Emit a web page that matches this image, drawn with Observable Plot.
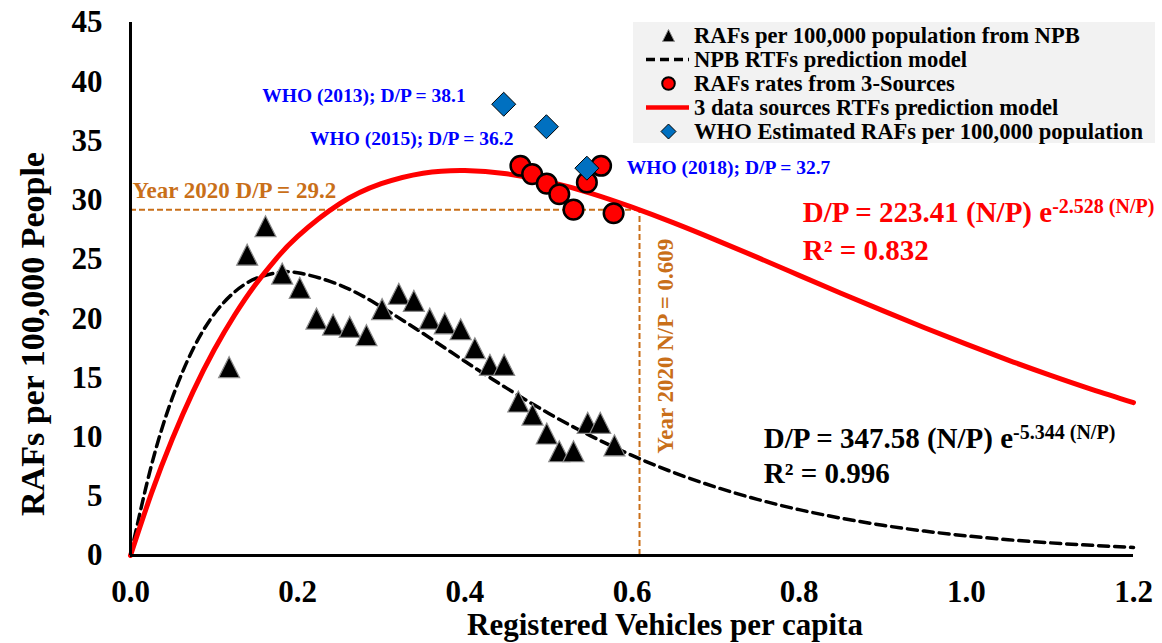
<!DOCTYPE html>
<html><head><meta charset="utf-8">
<script src="https://cdn.jsdelivr.net/npm/d3@7"></script>
<script src="https://cdn.jsdelivr.net/npm/@observablehq/plot@0.6"></script>
<style>
body{margin:0;background:#fff;}
#wrap{position:relative;width:1162px;height:643px;overflow:hidden;}
#wrap svg{position:absolute;left:0;top:0;}
</style></head><body><div id="wrap"></div>
<script>
// ---------- data ----------
const npbX = [0.118,0.1396,0.1615,0.1815,0.2025,0.2225,0.2424,0.2623,0.2823,0.301,0.321,0.339,0.358,0.376,0.395,0.412,0.430,0.447,0.464,0.481,0.498,0.513,0.530,0.547,0.562,0.579];
const npbY = [15.9,25.4,27.8,23.8,22.6,20.0,19.5,19.3,18.6,20.8,22.1,21.5,20.0,19.6,19.1,17.5,16.1,16.1,13.0,11.9,10.3,8.8,8.8,11.2,11.2,9.3];

const threeX = [0.4665,0.4805,0.498,0.513,0.530,0.546,0.563,0.578];
const threeY = [32.9,32.2,31.4,30.5,29.2,31.5,32.9,28.9];

const whoX = [0.4465,0.4976,0.546];
const whoY = [38.1,36.2,32.7];
const whoLabels = ["WHO (2013); D/P = 38.1","WHO (2015); D/P = 36.2","WHO (2018); D/P = 32.7"];

// model curves
const modelX = [0,0.025,0.05,0.075,0.1,0.125,0.15,0.175,0.2,0.25,0.3,0.35,0.4,0.45,0.5,0.55,0.6,0.65,0.7,0.75,0.8,0.85,0.9,0.95,1.0,1.05,1.1,1.15,1.2];
const npbModelY = [0,7.60,13.30,17.46,20.37,22.28,23.39,23.88,23.87,22.85,20.99,18.75,16.40,14.13,12.01,10.12,8.45,7.00,5.78,4.74,3.87,3.15,2.55,2.06,1.66,1.33,1.07,0.86,0.68];
const threeModelY = [0,5.24,9.84,13.86,17.35,20.35,22.93,25.11,26.95,29.69,31.39,32.28,32.51,32.23,31.56,30.60,29.41,28.08,26.65,25.17,23.65,22.14,20.67,19.23,17.84,16.50,15.23,14.03,12.91];

const year2020NP = 0.609;
const year2020DP = 29.2;

const xTicks = [0,0.2,0.4,0.6,0.8,1.0,1.2];
const yTicks = [0,5,10,15,20,25,30,35,40,45];

const xTitle = "Registered Vehicles per capita";
const yTitle = "RAFs per 100,000 People";

const legendLabels = ["RAFs per 100,000 population from NPB","NPB RTFs prediction model","RAFs rates from 3-Sources","3 data sources RTFs prediction model","WHO Estimated RAFs per 100,000 population"];

const equations = [
  {main:"D/P = 223.41 (N/P) e", sup:"-2.528 (N/P)", r2:"R² = 0.832", color:"#ff0000", x:0.8044, y:28.9, yR2:25.76},
  {main:"D/P = 347.58 (N/P) e", sup:"-5.344 (N/P)", r2:"R² = 0.996", color:"#000000", x:0.7577, y:9.88, yR2:6.93}
];

// ---------- tables ----------
const npb = npbX.map((x,i)=>({x, y:npbY[i]}));
const three = threeX.map((x,i)=>({x, y:threeY[i]}));
const who = whoX.map((x,i)=>({x, y:whoY[i], label:whoLabels[i]}));
const npbModel = modelX.map((x,i)=>({x, y:npbModelY[i]}));
const threeModel = modelX.map((x,i)=>({x, y:threeModelY[i]}));

const orange = "#C96F19";
const FONT = "Liberation Serif, Times New Roman, serif";

const triSym = {draw(ctx,size){const r=Math.sqrt(size/Math.PI);ctx.moveTo(0,-r);ctx.lineTo(r,r);ctx.lineTo(-r,r);ctx.closePath();}};
const diaSym = {draw(ctx,size){const r=Math.sqrt(size/Math.PI);ctx.moveTo(0,-r);ctx.lineTo(r,0);ctx.lineTo(0,r);ctx.lineTo(-r,0);ctx.closePath();}};

const whoOffsets = [{anchor:"end",dx:-38,dy:-8},{anchor:"end",dx:-33,dy:12},{anchor:"start",dx:40,dy:0}];

const chart = Plot.plot({
  width:1162, height:643,
  marginLeft:130, marginRight:29, marginTop:22, marginBottom:88,
  style:{fontFamily:FONT, fontWeight:"bold", color:"#000", background:"#fff", fontSize:"31px"},
  x:{domain:[0,1.2]},
  y:{domain:[0,45]},
  marks:[
    Plot.axisX({ticks:xTicks, tickFormat:d=>d.toFixed(1), tickSize:0, tickPadding:24, fontSize:31, fontWeight:"bold", label:null}),
    Plot.axisY({ticks:yTicks, tickSize:0, tickPadding:28, fontSize:31, fontWeight:"bold", label:null}),
    Plot.ruleY([year2020DP], {x1:0, x2:year2020NP, stroke:orange, strokeWidth:2, strokeDasharray:"6,3"}),
    Plot.ruleX([year2020NP], {y1:0, y2:year2020DP, stroke:orange, strokeWidth:2, strokeDasharray:"6,3"}),
    Plot.line(npbModel, {x:"x", y:"y", curve:"natural", stroke:"#000", strokeWidth:3.5, strokeDasharray:"10,6"}),
    Plot.line(threeModel, {x:"x", y:"y", curve:"natural", stroke:"#ff0000", strokeWidth:5}),
    Plot.ruleX([0], {stroke:"#000", strokeWidth:3}),
    Plot.ruleY([0], {stroke:"#000", strokeWidth:3}),
    Plot.dot(npb, {x:"x", y:"y", symbol:triSym, r:10.5, fill:"#000", stroke:"#8c8c8c", strokeWidth:1.2}),
    Plot.dot(three, {x:"x", y:"y", r:9.8, fill:"#ff0000", stroke:"#000", strokeWidth:2.5}),
    Plot.dot(who, {x:"x", y:"y", symbol:diaSym, r:12, fill:"#0070C0", stroke:"#000", strokeWidth:1}),
    ...who.map((d,i)=>Plot.text([d], {x:"x", y:"y", text:"label", textAnchor:whoOffsets[i].anchor, dx:whoOffsets[i].dx, dy:whoOffsets[i].dy, fill:"#0000ff", fontSize:19.5, fontWeight:"bold"})),
    Plot.text([{x:0, y:year2020DP, t:"Year 2020 D/P = " + year2020DP}], {x:"x", y:"y", text:"t", textAnchor:"start", dx:2, dy:-19, fill:orange, fontSize:23, fontWeight:"bold"}),
    Plot.text([{x:year2020NP, y:year2020DP, t:"Year 2020 N/P = " + year2020NP}], {x:"x", y:"y", text:"t", rotate:-90, textAnchor:"end", dx:26, dy:29, fill:orange, fontSize:23, fontWeight:"bold"}),
    ...equations.flatMap(e=>[
      Plot.text([e], {x:"x", y:"y", text:"main", textAnchor:"start", fill:e.color, fontSize:29, fontWeight:"bold"}),
      Plot.text([e], {x:"x", y:"yR2", text:"r2", textAnchor:"start", fill:e.color, fontSize:29, fontWeight:"bold"})
    ]),
    Plot.text([xTitle], {text:d=>d, frameAnchor:"bottom", textAnchor:"middle", lineAnchor:"middle", dx:33, dy:70, fontSize:31, fontWeight:"bold", fill:"#000"}),
    Plot.text([yTitle], {text:d=>d, frameAnchor:"left", rotate:-90, textAnchor:"middle", lineAnchor:"middle", dx:-97, dy:45, fontSize:34, fontWeight:"bold", fill:"#000"})
  ]
});

// superscripts of the equations
equations.forEach(e=>{
  d3.select(chart).selectAll("text").filter(function(){return this.textContent === e.main;})
    .append("tspan").attr("dy","-9").attr("font-size","20px").text(e.sup);
});

const wrap = document.getElementById("wrap");
wrap.appendChild(chart);

// ---------- legend (inside the plot area, top right) ----------
const lg = d3.select(wrap).append("svg").attr("width",1162).attr("height",643)
  .style("pointer-events","none");
lg.append("rect").attr("x",633).attr("y",22).attr("width",522).attr("height",121).attr("fill","#f2f2f2");
const rowY = i => 35.5 + 24*i;
const mx = 668.5;
// triangle
lg.append("path").attr("d",`M${mx},${rowY(0)-6}L${mx+6},${rowY(0)+6}L${mx-6},${rowY(0)+6}Z`).attr("fill","#000").attr("stroke","#8c8c8c").attr("stroke-width",1);
// dashed line
lg.append("line").attr("x1",646).attr("x2",689).attr("y1",rowY(1)).attr("y2",rowY(1)).attr("stroke","#000").attr("stroke-width",3.5).attr("stroke-dasharray","9,5");
// circle
lg.append("circle").attr("cx",mx).attr("cy",rowY(2)).attr("r",6.3).attr("fill","#ff0000").attr("stroke","#000").attr("stroke-width",2);
// red line
lg.append("line").attr("x1",646).attr("x2",689).attr("y1",rowY(3)).attr("y2",rowY(3)).attr("stroke","#ff0000").attr("stroke-width",4.5);
// diamond
lg.append("path").attr("d",`M${mx},${rowY(4)-7.5}L${mx+7.5},${rowY(4)}L${mx},${rowY(4)+7.5}L${mx-7.5},${rowY(4)}Z`).attr("fill","#0070C0").attr("stroke","#000").attr("stroke-width",1);
legendLabels.forEach((t,i)=>{
  lg.append("text").attr("x",694).attr("y",rowY(i)).attr("dy","0.33em")
    .attr("font-family",FONT).attr("font-weight","bold").attr("font-size","22.6px").attr("fill","#000").text(t);
});
</script>
</body></html>
